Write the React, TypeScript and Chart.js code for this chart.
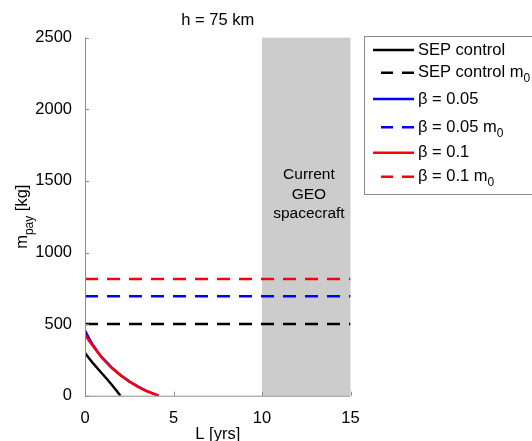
import React, { useEffect, useRef } from "react";
import { Chart, registerables } from "chart.js";
Chart.register(...registerables);

// ---- data ----
const sepL = [0, 0.25, 0.5, 0.75, 1, 1.25, 1.5, 1.75, 2.0];
const sepMass = [298, 258, 220, 185, 150, 115, 78, 40, 0];
const beta05L = [0, 0.25, 0.5, 0.75, 1, 1.5, 2, 2.5, 3, 3.5, 4, 4.17];
const beta05Mass = [455, 395, 345, 300, 262, 198, 145, 100, 63, 32, 8, 0];
const beta1L = [0, 0.25, 0.5, 0.75, 1, 1.5, 2, 2.5, 3, 3.5, 4, 4.15];
const beta1Mass = [425, 380, 338, 298, 258, 195, 143, 99, 62, 31, 7, 0];
const baselineL = [0, 15];
const sepBaseline = 500;
const beta05Baseline = 695;
const beta1Baseline = 815;
const xTickValues = [0, 5, 10, 15];
const yTickValues = [0, 500, 1000, 1500, 2000, 2500];
const shadeRange = [10, 15];
const shadeLabel = ["Current", "GEO", "spacecraft"];
const shadeLabelX = 12.65;
const titleText = "h = 75 km";
const xTitleText = "L [yrs]";
const yTitleParts = ["m", "pay", " [kg]"];
const seriesLabels = [
  "SEP control",
  "SEP control m_0",
  "β = 0.05",
  "β = 0.05 m_0",
  "β = 0.1",
  "β = 0.1 m_0",
];
const seriesColors = ["#000000", "#000000", "#0000ff", "#0000ff", "#ff0000", "#ff0000"];

const FONT = "'Liberation Sans', Arial, sans-serif";
const FS = 16.5;
const DASH = [13, 9];

function pts(xs: number[], ys: number[]) {
  return xs.map((x, i) => ({ x, y: ys[i] }));
}
function flat(xs: number[], v: number) {
  return xs.map((x) => ({ x, y: v }));
}

// draw text where "_0" suffix becomes subscript
function drawRich(ctx: CanvasRenderingContext2D, label: string, x: number, y: number) {
  const idx = label.indexOf("_");
  ctx.font = `${FS}px ${FONT}`;
  ctx.textBaseline = "middle";
  ctx.textAlign = "left";
  if (idx < 0) {
    ctx.fillText(label, x, y);
    return;
  }
  const main = label.slice(0, idx);
  const sub = label.slice(idx + 1);
  ctx.fillText(main, x, y);
  const w = ctx.measureText(main).width;
  ctx.font = `12px ${FONT}`;
  ctx.fillText(sub, x + w, y + 6);
  ctx.font = `${FS}px ${FONT}`;
}

const decorPlugin = {
  id: "decor",
  beforeDatasetsDraw(chart: any) {
    const ctx = chart.ctx as CanvasRenderingContext2D;
    const xs = chart.scales.x;
    const ys = chart.scales.y;
    ctx.save();
    ctx.fillStyle = "rgb(204,204,204)";
    const x0 = xs.getPixelForValue(shadeRange[0]);
    const x1 = xs.getPixelForValue(shadeRange[1]);
    const y0 = ys.getPixelForValue(yTickValues[yTickValues.length - 1]);
    const y1 = ys.getPixelForValue(0);
    ctx.fillRect(x0, y0, x1 - x0, y1 - y0);
    ctx.fillStyle = "#000";
    ctx.font = `15.5px ${FONT}`;
    ctx.textAlign = "center";
    ctx.textBaseline = "alphabetic";
    const cx = xs.getPixelForValue(shadeLabelX);
    const baselines = [179, 198.5, 218];
    shadeLabel.forEach((t, i) => ctx.fillText(t, cx, baselines[i]));
    ctx.restore();
  },
  afterDraw(chart: any) {
    const ctx = chart.ctx as CanvasRenderingContext2D;
    const xs = chart.scales.x;
    const ys = chart.scales.y;
    const area = chart.chartArea;
    ctx.save();
    // axes lines and inward ticks
    ctx.strokeStyle = "#8c8c8c";
    ctx.lineWidth = 1;
    ctx.beginPath();
    ctx.moveTo(area.left + 0.5, area.top);
    ctx.lineTo(area.left + 0.5, area.bottom + 0.5);
    ctx.lineTo(area.right, area.bottom + 0.5);
    yTickValues.forEach((v) => {
      const y = Math.round(ys.getPixelForValue(v)) + 0.5;
      ctx.moveTo(area.left, y);
      ctx.lineTo(area.left + 4, y);
    });
    xTickValues.forEach((v) => {
      const x = Math.round(xs.getPixelForValue(v)) + 0.5;
      ctx.moveTo(x, area.bottom);
      ctx.lineTo(x, area.bottom - 4);
    });
    ctx.stroke();

    // title
    ctx.fillStyle = "#000";
    ctx.font = `${FS}px ${FONT}`;
    ctx.textAlign = "center";
    ctx.textBaseline = "alphabetic";
    const midX = (area.left + area.right) / 2;
    ctx.fillText(titleText, midX, 25);
    // x title
    ctx.fillText(xTitleText, midX, 439);
    // y title with subscript
    ctx.save();
    ctx.translate(30, (area.top + area.bottom) / 2);
    ctx.rotate(-Math.PI / 2);
    ctx.textAlign = "left";
    ctx.font = `${FS}px ${FONT}`;
    const wM = ctx.measureText(yTitleParts[0]).width;
    const wK = ctx.measureText(yTitleParts[2]).width;
    ctx.font = `12px ${FONT}`;
    const wP = ctx.measureText(yTitleParts[1]).width;
    const total = wM + wP + wK;
    let px = -total / 2;
    ctx.font = `${FS}px ${FONT}`;
    ctx.fillText(yTitleParts[0], px, -3);
    px += wM;
    ctx.font = `12px ${FONT}`;
    ctx.fillText(yTitleParts[1], px, 3);
    px += wP;
    ctx.font = `${FS}px ${FONT}`;
    ctx.fillText(yTitleParts[2], px, -3);
    ctx.restore();

    // legend
    const bx = 364.5, by = 36.5, bw = 180, bh = 158;
    ctx.fillStyle = "#fff";
    ctx.fillRect(bx, by, bw, bh);
    ctx.strokeStyle = "#8c8c8c";
    ctx.lineWidth = 1;
    ctx.strokeRect(bx, by, bw, bh);
    const rowY = [50, 72.7, 99, 127.3, 152.7, 176.7];
    chart.data.datasets.forEach((ds: any, i: number) => {
      const y = rowY[i];
      ctx.strokeStyle = ds.borderColor;
      ctx.lineWidth = 2.5;
      ctx.beginPath();
      if (ds.borderDash && ds.borderDash.length) {
        ctx.moveTo(381, y);
        ctx.lineTo(393, y);
        ctx.moveTo(402, y);
        ctx.lineTo(414, y);
      } else {
        ctx.moveTo(373, y);
        ctx.lineTo(414, y);
      }
      ctx.stroke();
      ctx.fillStyle = "#000";
      drawRich(ctx, ds.label, 418, y);
    });
    ctx.restore();
  },
};

export default function App() {
  const ref = useRef<HTMLCanvasElement | null>(null);
  useEffect(() => {
    if (!ref.current) return;
    const mk = (label: string, data: any[], color: string, dashed: boolean, order: number) => ({
      label,
      data,
      order,
      borderColor: color,
      backgroundColor: color,
      borderWidth: 2.5,
      borderDash: dashed ? DASH : [],
      pointRadius: 0,
      showLine: true,
      fill: false,
      tension: 0,
    });
    const chart = new Chart(ref.current, {
      type: "line",
      data: {
        datasets: [
          mk(seriesLabels[0], pts(sepL, sepMass), seriesColors[0], false, 6),
          mk(seriesLabels[1], flat(baselineL, sepBaseline), seriesColors[1], true, 5),
          mk(seriesLabels[2], pts(beta05L, beta05Mass), seriesColors[2], false, 4),
          mk(seriesLabels[3], flat(baselineL, beta05Baseline), seriesColors[3], true, 3),
          mk(seriesLabels[4], pts(beta1L, beta1Mass), seriesColors[4], false, 2),
          mk(seriesLabels[5], flat(baselineL, beta1Baseline), seriesColors[5], true, 1),
        ],
      },
      options: {
        responsive: false,
        animation: false,
        layout: { padding: { left: 0, right: 181.5, top: 37.7, bottom: 0 } },
        plugins: { legend: { display: false }, title: { display: false }, tooltip: { enabled: false } },
        scales: {
          x: {
            type: "linear",
            min: 0,
            max: 15,
            afterBuildTicks: (s: any) => {
              s.ticks = xTickValues.map((v) => ({ value: v }));
            },
            afterFit: (s: any) => {
              s.height = 45.3;
            },
            grid: { display: false },
            border: { display: false },
            ticks: {
              color: "#000",
              font: { family: FONT, size: FS },
              padding: 5,
              maxRotation: 0,
              callback: (v: any) => String(v),
            },
          },
          y: {
            type: "linear",
            min: 0,
            max: 2500,
            afterBuildTicks: (s: any) => {
              s.ticks = yTickValues.map((v) => ({ value: v }));
            },
            afterFit: (s: any) => {
              s.width = 85;
            },
            grid: { display: false },
            border: { display: false },
            ticks: {
              color: "#000",
              font: { family: FONT, size: FS },
              padding: 5,
              callback: (v: any) => String(v),
            },
          },
        },
      },
      plugins: [decorPlugin],
    } as any);
    return () => chart.destroy();
  }, []);
  return (
    <div style={{ position: "absolute", left: 0, top: 0, width: 532, height: 441, background: "#fff" }}>
      <canvas ref={ref} width={532} height={441} style={{ display: "block" }} />
    </div>
  );
}
